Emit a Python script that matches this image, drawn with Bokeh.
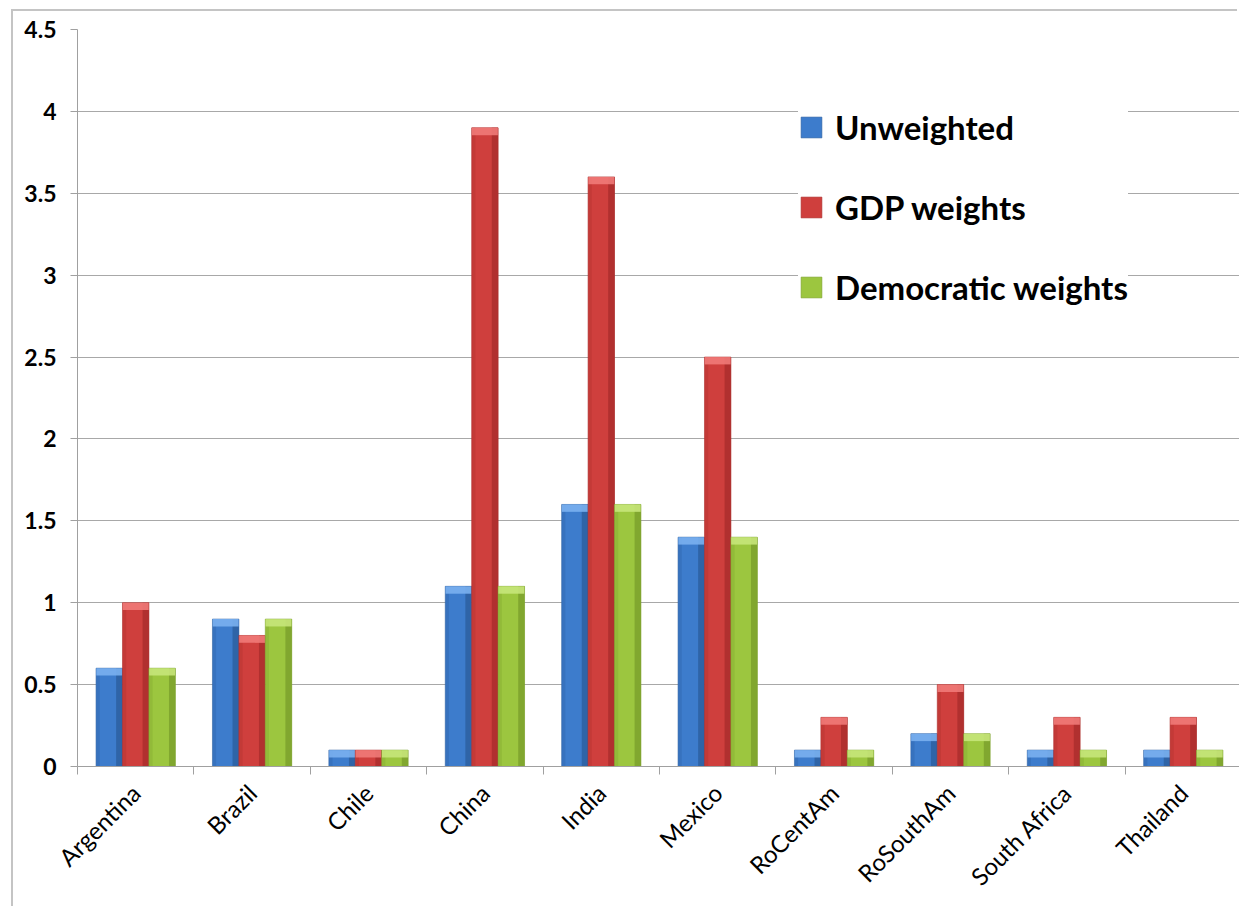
import numpy as np
from bokeh.plotting import figure
from bokeh.models import (FixedTicker, Range1d, Legend, LegendItem, ColumnDataSource)
from bokeh.embed import file_html
from bokeh.resources import INLINE

categories = ["Argentina", "Brazil", "Chile", "China", "India", "Mexico",
              "RoCentAm", "RoSouthAm", "South Africa", "Thailand"]
unweighted = [0.6, 0.9, 0.1, 1.1, 1.6, 1.4, 0.1, 0.2, 0.1, 0.1]
gdp_weights = [1.0, 0.8, 0.1, 3.9, 3.6, 2.5, 0.3, 0.5, 0.3, 0.3]
democratic_weights = [0.6, 0.9, 0.1, 1.1, 1.6, 1.4, 0.1, 0.2, 0.1, 0.1]
series_names = ["Unweighted", "GDP weights", "Democratic weights"]
y_ticks = [0, 0.5, 1, 1.5, 2, 2.5, 3, 3.5, 4, 4.5]
y_tick_labels = ["0", "0.5", "1", "1.5", "2", "2.5", "3", "3.5", "4", "4.5"]

FONT = "Lato"
OFF_X, OFF_Y = 13, 11          # page offset of the chart (inside the grey border)
W, H = 1239 - OFF_X, 908 - OFF_Y
LEFT, TOP, BOTTOM = 77 - OFF_X, 29 - OFF_Y, 142

p = figure(width=W, height=H, output_backend="svg", toolbar_location=None,
           min_border_left=LEFT, min_border_top=TOP, min_border_bottom=BOTTOM,
           min_border_right=0, margin=(OFF_Y, 0, 0, OFF_X),
           styles={"box-shadow": "-2px -2px 0px 0px #c4c4c4"})
p.x_range = Range1d(0, len(categories) * (W - LEFT) / 1164.0)
p.y_range = Range1d(0, 4.5)
p.outline_line_color = None
p.background_fill_color = "white"
p.border_fill_color = "white"

centers = np.arange(len(categories)) + 0.5
bw = 0.227
offsets = [-bw, 0.0, bw]
all_vals = [unweighted, gdp_weights, democratic_weights]
mains = ["#3d7ccc", "#cf3f3d", "#9cc63f"]
darks = ["#2c5e9e", "#a92d2c", "#7a9f2c"]
lights = ["#7ab0ef", "#f07a78", "#c6e67a"]

cap = 0.045
renderers = []
for vals, off, mc, dc, lc in zip(all_vals, offsets, mains, darks, lights):
    xs = centers + off
    vals = np.array(vals, dtype=float)
    src = ColumnDataSource(dict(x=xs, top=vals, capb=np.maximum(vals - cap, 0),
                                xr=xs + bw * 0.38, xl=xs - bw * 0.42))
    r = p.vbar(x="x", top="top", bottom=0, width=bw, source=src,
               fill_color=mc, line_color=dc, line_width=0.6)
    p.vbar(x="xr", top="top", bottom=0, width=bw * 0.24, source=src,
           fill_color=dc, line_color=None, fill_alpha=0.8)
    p.vbar(x="xl", top="top", bottom=0, width=bw * 0.12, source=src,
           fill_color=dc, line_color=None, fill_alpha=0.3)
    p.vbar(x="x", top="top", bottom="capb", width=bw * 0.98, source=src,
           fill_color=lc, line_color=None, fill_alpha=0.9)
    renderers.append(r)

# axes
p.yaxis.ticker = FixedTicker(ticks=y_ticks)
p.yaxis.major_label_overrides = {t: l for t, l in zip(y_ticks, y_tick_labels)}
p.yaxis.major_label_text_font = FONT
p.yaxis.major_label_text_font_style = "bold"
p.yaxis.major_label_text_font_size = "23px"
p.yaxis.major_label_text_color = "black"
p.yaxis.major_tick_in = 0
p.yaxis.major_tick_out = 7
p.yaxis.minor_tick_line_color = None
p.yaxis.major_label_standoff = 14
p.yaxis.axis_line_color = "#a0a0a0"
p.yaxis.major_tick_line_color = "#a0a0a0"

p.xaxis.ticker = FixedTicker(ticks=list(centers),
                             minor_ticks=list(range(len(categories) + 1)))
p.xaxis.major_label_overrides = {float(c): n for c, n in zip(centers, categories)}
p.xaxis.major_label_orientation = np.pi / 4
p.xaxis.major_label_text_font = FONT
p.xaxis.major_label_text_font_size = "24px"
p.xaxis.major_label_text_color = "black"
p.xaxis.major_tick_line_color = None
p.xaxis.minor_tick_in = 0
p.xaxis.minor_tick_out = 8
p.xaxis.minor_tick_line_color = "#a0a0a0"
p.xaxis.axis_line_color = "#a0a0a0"
p.xaxis.major_label_standoff = 14

p.xgrid.grid_line_color = None
p.ygrid.ticker = FixedTicker(ticks=y_ticks)
p.ygrid.grid_line_color = "#a8a8a8"

legend = Legend(items=[LegendItem(label=n, renderers=[r]) for n, r in zip(series_names, renderers)],
                location=(721 + 13 - OFF_X, 459))
legend.label_text_font = FONT
legend.label_text_font_size = "33px"
legend.label_text_font_style = "bold"
legend.label_text_color = "black"
legend.glyph_width = 26
legend.glyph_height = 26
legend.label_standoff = 11
legend.spacing = 40
legend.label_height = 40
legend.padding = 0
legend.margin = 0
legend.border_line_color = None
legend.background_fill_color = "white"
legend.background_fill_alpha = 1.0
p.add_layout(legend)

open("out.html", "w").write(file_html(p, INLINE))
